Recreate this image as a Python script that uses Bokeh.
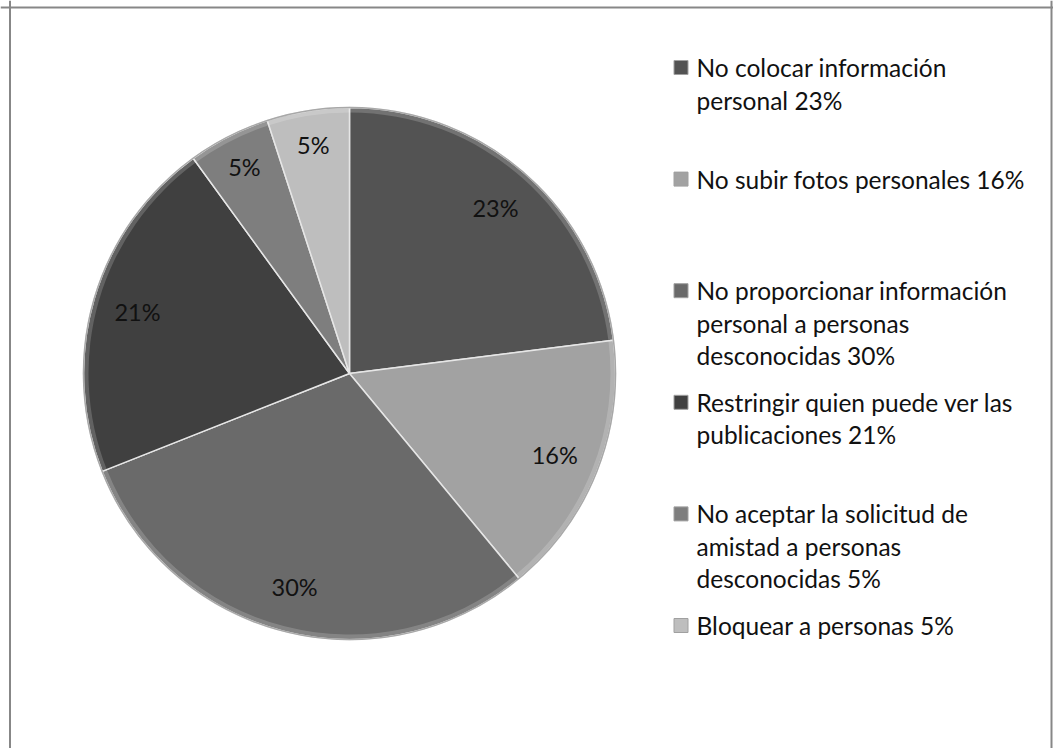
import math
from bokeh.plotting import figure
from bokeh.models import Range1d, Span, ColumnDataSource
from bokeh.core.properties import value
from bokeh.embed import file_html
from bokeh.resources import INLINE

# ---- data ----
categories = [
    "No colocar información personal",
    "No subir fotos personales",
    "No proporcionar información personal a personas desconocidas",
    "Restringir quien puede ver las publicaciones",
    "No aceptar la solicitud de amistad a personas desconocidas",
    "Bloquear a personas",
]
percents = [23, 16, 30, 21, 5, 5]
legend_texts = [
    "No colocar información\npersonal 23%",
    "No subir fotos personales 16%",
    "No proporcionar información\npersonal a personas\ndesconocidas 30%",
    "Restringir quien puede ver las\npublicaciones 21%",
    "No aceptar la solicitud de\namistad a personas\ndesconocidas 5%",
    "Bloquear a personas 5%",
]
colors = ["#535353", "#a2a2a2", "#6a6a6a", "#404040", "#7e7e7e", "#bebebe"]

W, H = 1053, 748
p = figure(width=W, height=H, output_backend="svg", toolbar_location=None,
           x_range=Range1d(0, W), y_range=Range1d(0, H),
           x_axis_location=None, y_axis_location=None,
           min_border=0, min_border_left=0, min_border_right=0,
           min_border_top=0, min_border_bottom=0)
p.grid.visible = False
p.outline_line_color = None
p.background_fill_color = "white"
p.border_fill_color = "white"

# frame border (top, left, right)
p.add_layout(Span(location=9.5, dimension="height", line_color="#878787", line_width=2))
p.add_layout(Span(location=1051, dimension="height", line_color="#878787", line_width=2))
p.add_layout(Span(location=H - 7, dimension="width", line_color="#878787", line_width=2))

# ---- pie ----
cx, cy, r = 349, H - 373, 266
total = sum(percents)
starts, ends, lx, ly, labs = [], [], [], [], []
acc = 0.0
for v in percents:
    a0 = math.pi / 2 - acc / total * 2 * math.pi
    acc += v
    a1 = math.pi / 2 - acc / total * 2 * math.pi
    starts.append(a0)
    ends.append(a1)
    mid = (a0 + a1) / 2
    k = 0.87 if v < 10 else 0.83   # small slices: label pushed outward
    lx.append(cx + k * r * math.cos(mid))
    ly.append(cy + k * r * math.sin(mid))
    labs.append(f"{v}%")

src = ColumnDataSource(dict(start=starts, end=ends, color=colors))
p.wedge(x=cx, y=cy, radius=r, start_angle="start", end_angle="end",
        direction="clock", fill_color="color", line_color="#e6e6e6",
        line_width=1.5, source=src)
# bevel-like lighter rim
p.annular_wedge(x=cx, y=cy, inner_radius=r - 5, outer_radius=r,
                start_angle="start", end_angle="end", direction="clock",
                fill_color="white", fill_alpha=0.18, line_color=None, source=src)
p.circle(x=[cx], y=[cy], radius=r, fill_color=None, line_color="#a8a8a8", line_width=1.5)

p.text(x=lx, y=ly, text=labs, text_font=value("Lato"), text_font_size="23.5px",
       text_color="#111111", text_align="center", text_baseline="middle")

# ---- legend ----
first_line_page_y = 67
slot = 111.6
line_h = 32.5
mx = 680.5
tx = 696
for i, (t, c) in enumerate(zip(legend_texts, colors)):
    y0 = H - (first_line_page_y + i * slot)
    p.scatter(x=[mx], y=[y0], marker="square", size=14, fill_color=c,
              line_color="#a0a0a0", line_width=1)
    for j, line in enumerate(t.split("\n")):
        p.text(x=[tx], y=[y0 - j * line_h], text=[line], text_font=value("Lato"),
               text_font_size="24.5px", text_color="#111111",
               text_align="left", text_baseline="middle")

open("out.html", "w").write(file_html(p, INLINE))
